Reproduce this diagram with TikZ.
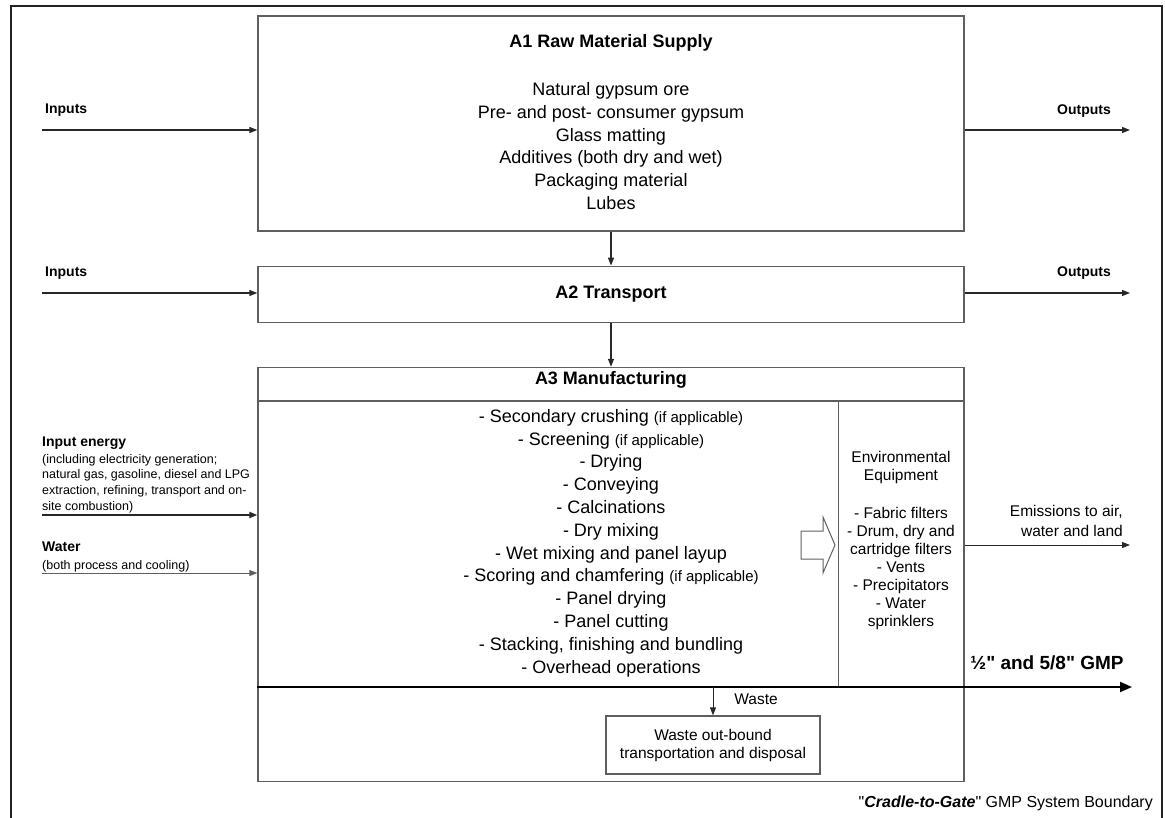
\documentclass[tikz,border=0pt]{standalone}
\usepackage{fontspec}
\setmainfont{Liberation Sans}[Ligatures=TeXOff]
\usetikzlibrary{
  arrows.meta,
  calc,
  positioning,
}
\definecolor{boxgray}{RGB}{95,95,95}
\definecolor{framegray}{RGB}{35,35,35}
\definecolor{inkgray}{RGB}{40,40,40}
\tikzset{
  >={Triangle[length=8pt,width=6pt]},
  stagebox/.style={rectangle,draw=boxgray,line width=1.2pt,minimum width=706,minimum height=#1,inner sep=0},
  flow/.style={->,draw=inkgray,line width=1.3pt},
  tag/.style={inner sep=0,anchor=west,font=\fontsize{14}{16}\selectfont\bfseries},
  big/.style={inner sep=0,align=center,font=\fontsize{18}{22.8}\selectfont},
  note/.style={inner sep=0,align=center,font=\fontsize{15.5}{18}\selectfont},
  fine/.style={inner sep=0,anchor=west,align=left,font=\fontsize{12.5}{15.6}\selectfont},
}
\newcommand{\ifnote}[1]{{\fontsize{15}{20}\selectfont #1}}

\begin{document}
\begin{tikzpicture}[x=1pt,y=-1pt]

        \useasboundingbox (0,0) rectangle (1165,818);
        \draw[draw=framegray,line width=2.6pt] (11,840) -- (11,6) -- (1162,6) -- (1162,840);

        \node[stagebox=215] (A1) at (611,123.5) {};
        \node[stagebox=56,below=34pt of A1] (A2) {};
        \node[stagebox=414,below=44pt of A2] (A3) {};

        \node[big] (A1title) at (611,43) {\textbf{A1 Raw Material Supply}};
        \node[big] (A1list) at (611,146) {Natural gypsum ore\\Pre- and post- consumer gypsum\\Glass matting\\Additives (both dry and wet)\\Packaging material\\Lubes};
        \node[big] (A2title) at (A2) {\textbf{A2 Transport}};
        \node[big] (A3title) at (611,380) {\textbf{A3 Manufacturing}};
        \node[big] (A3list) at (611,543) {- Secondary crushing \ifnote{(if applicable)}\\- Screening \ifnote{(if applicable)}\\- Drying\\- Conveying\\- Calcinations\\- Dry mixing\\- Wet mixing and panel layup\\- Scoring and chamfering \ifnote{(if applicable)}\\- Panel drying\\- Panel cutting\\- Stacking, finishing and bundling\\- Overhead operations};

        \draw[->,draw=inkgray,line width=1.2pt] (A1.south) -- (A2.north);
        \draw[->,draw=inkgray,line width=1.2pt] (A2.south) -- (A3.north);

        \coordinate (hdr) at (0,401);
        \coordinate (gmpend) at (1132,687);
        \coordinate (envtop) at (838,401);
        \draw[draw=boxgray,line width=1.2pt] (A3.west |- hdr) -- (A3.east |- hdr);
        \draw[draw=boxgray,line width=1pt] (envtop) -- (envtop |- gmpend);

        \draw[draw=boxgray,line width=1pt] (801,531) -- (823,531) -- (823,517) -- (835,545) -- (823,573) -- (823,559) -- (801,559) -- cycle;
        \node[note] (envtitle) at (901,467.5) {Environmental\\Equipment};
        \node[note] (envlist) at (901,568.5) {- Fabric filters\\- Drum, dry and\\cartridge filters\\- Vents\\- Precipitators\\- Water\\sprinklers};

        \draw[->,draw=black,line width=2pt,>={Triangle[length=12pt,width=10pt]}] (A3.west |- gmpend) -- (gmpend);
        \node[inner sep=0,font=\fontsize{19}{22}\selectfont\bfseries] (gmplabel) at (1047,663) {½" and 5/8" GMP};

        \coordinate (wastesrc) at (713,687);
        \node[note,draw=boxgray,line width=1.2pt,minimum width=214,minimum height=58] (wastebox) at (713,745) {Waste out-bound\\transportation and disposal};
        \draw[->,draw=inkgray,line width=0.9pt] (wastesrc) -- (wastebox.north);
        \node[note] (wastelabel) at (756,699) {Waste};

        \coordinate (in1) at (42,130);
        \coordinate (out1) at (1130,130);
        \draw[flow] (in1) -- (in1 -| A1.west);
        \draw[flow] (out1 -| A1.east) -- (out1);
        \node[tag] (in1label) at (45,110) {Inputs};
        \node[tag] (out1label) at (1057,111) {Outputs};

        \coordinate (in2) at (42,293);
        \coordinate (out2) at (1130,293);
        \draw[flow] (in2) -- (in2 -| A2.west);
        \draw[flow] (out2 -| A2.east) -- (out2);
        \node[tag] (in2label) at (45,273) {Inputs};
        \node[tag] (out2label) at (1057,273) {Outputs};

        \coordinate (energy) at (42,515);
        \draw[flow,line width=1.8pt] (energy) -- (energy -| A3.west);
        \node[tag] (energylabel) at (42,443) {Input energy};
        \node[fine] (energynote) at (42,483.5) {(including electricity generation;\\natural gas, gasoline, diesel and LPG\\extraction, refining, transport and on-\\site combustion)};

        \coordinate (water) at (42,573);
        \draw[flow,draw=boxgray,line width=0.8pt] (water) -- (water -| A3.west);
        \node[tag] (waterlabel) at (42,547) {Water};
        \node[fine] (waternote) at (42,566) {(both process and cooling)};

        \coordinate (emit) at (1130,545);
        \draw[flow,line width=1pt] (emit -| A3.east) -- (emit);
        \node[note,align=right,anchor=east,font=\fontsize{15.5}{20}\selectfont] (emitlabel) at (1123,521) {Emissions to air,\\water and land};

        \node[inner sep=0,anchor=east,font=\fontsize{16}{18}\selectfont] (boundary) at (1153,803) {"\textbf{\textit{Cradle-to-Gate}}" GMP System Boundary};

      \end{tikzpicture}
\end{document}
